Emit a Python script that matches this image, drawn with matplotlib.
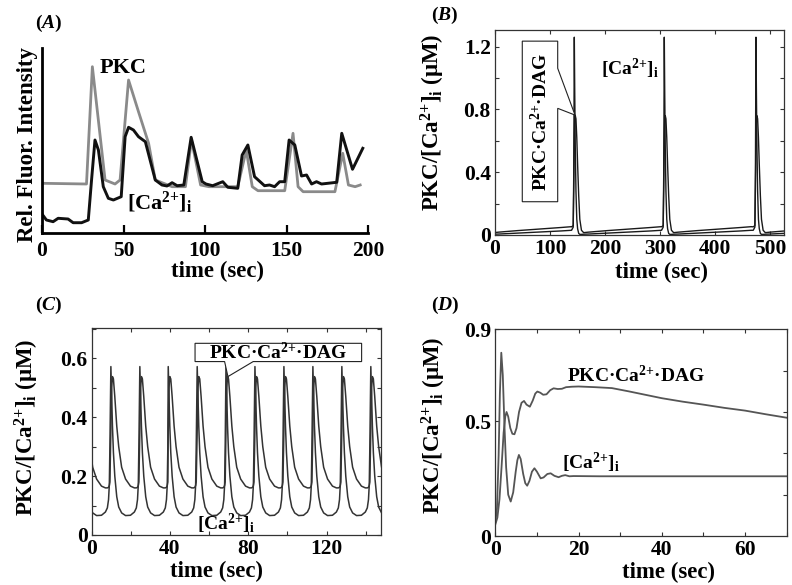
import numpy as np
import matplotlib
matplotlib.use("Agg")
import matplotlib.pyplot as plt
from matplotlib.patches import Polygon
from matplotlib.ticker import MultipleLocator, FixedLocator

plt.rcParams["font.family"] = ["Liberation Serif", "DejaVu Serif"]
plt.rcParams["font.weight"] = "bold"
plt.rcParams["axes.labelweight"] = "bold"
plt.rcParams["mathtext.fontset"] = "custom"
plt.rcParams["mathtext.rm"] = "Liberation Serif:bold"
plt.rcParams["mathtext.it"] = "Liberation Serif:bold:italic"
plt.rcParams["mathtext.bf"] = "Liberation Serif:bold"

# ---- panel A: measured fluorescence (arbitrary units) ----
a_pkc_t = [0, 27.3, 30.9, 38.7, 44.8, 47.9, 53.1, 59.2, 65.4, 69.5, 79.8, 88, 91.7,
           97.3, 102.4, 120.1, 125.3, 129, 132.5, 148.9, 154, 157.1, 160.2, 179.7,
           184.5, 188, 192.1, 195.2]
a_pkc_v = [49.7, 49, 166.3, 53, 49, 53, 153, 121.3, 89.7, 53, 46.3, 46.3, 93, 48,
           46.3, 46.3, 83, 46.3, 42.3, 42.3, 99.7, 46.3, 41.3, 41.3, 79.7, 48, 46.3, 48]
a_ca_t = [0, 2.7, 6.8, 9.9, 16, 19.1, 24.3, 28.4, 30.4, 32.5, 34.6, 37.6, 40.7, 43.8,
          48.6, 51, 53.1, 56.1, 59.2, 63.4, 69.5, 73.6, 76.7, 79.8, 82.9, 87, 91.5,
          98.3, 100.6, 104.7, 110.9, 114, 120.1, 122.8, 126.3, 130.4, 136.5, 139.6,
          142.7, 145.8, 148.9, 151.6, 155.1, 159.2, 162.3, 165.4, 168.4, 171.5,
          180.8, 183.9, 190.5, 196.8]
a_ca_v = [19, 13, 11.3, 14.7, 14, 10.3, 10.3, 13, 53, 93, 83, 46.3, 34.7, 33, 36.3,
          96.3, 105.7, 103, 96.3, 91.3, 53, 48, 47, 50.3, 47.3, 48, 95.7, 51.3, 49,
          47.3, 51.3, 45.7, 44.7, 78, 88, 56.3, 47.3, 48, 46.3, 51.3, 51.3, 93, 88,
          57, 58, 49, 51.3, 49, 50.7, 99.7, 63.7, 84.7]

# ---- panel B: one oscillation cycle (relative to Ca peak) and peak times ----
b_peaks = [-19.0, 144.2, 307.8, 474.5]
b_rel = [-5, -2, -1, 0, 0.8, 1.8, 3, 4.5, 6, 8, 10, 13, 17, 25, 60, 100, 140, 158]
b_ca = [0.03, 0.05, 0.4, 1.26, 0.9, 0.55, 0.28, 0.1, 0.04, 0.01, 0.004, 0.004,
        0.005, 0.006, 0.012, 0.019, 0.026, 0.03]
b_pkc = [0.052, 0.06, 0.3, 0.62, 0.74, 0.76, 0.74, 0.62, 0.45, 0.25, 0.1, 0.03,
         0.015, 0.018, 0.028, 0.038, 0.048, 0.053]

# ---- panel C: one cycle and peak times ----
c_peaks = [-5.0, 9.8, 24.6, 39.1, 53.9, 68.6, 83.4, 98.2, 113.0, 127.8, 142.6]
c_rel = [0.0, 0.4, 0.8, 1.3, 2.0, 3.0, 4.0, 5.5, 7.5, 10.0, 12.0, 13.0, 13.6, 14.0, 14.3]
c_ca = [0.572, 0.47, 0.37, 0.28, 0.20, 0.13, 0.095, 0.075, 0.066, 0.067, 0.078,
        0.092, 0.12, 0.17, 0.30]
c_pkc = [0.36, 0.50, 0.538, 0.53, 0.47, 0.37, 0.30, 0.23, 0.19, 0.166, 0.16, 0.16,
         0.162, 0.168, 0.18]

# ---- panel D: damped response ----
d_ca_t = [0.0, 0.4, 0.8, 1.1, 1.44, 1.8, 2.2, 2.6, 3.1, 3.7, 4.3, 4.9, 5.3, 5.67,
          6.1, 6.7, 7.2, 7.66, 8.2, 8.8, 9.4, 10.0, 10.9, 11.6, 12.5, 13.3, 14.2,
          15.2, 16.0, 16.8, 17.8, 18.8, 25, 40, 55, 70]
d_ca = [0.06, 0.12, 0.35, 0.62, 0.798, 0.70, 0.48, 0.30, 0.18, 0.15, 0.19, 0.28,
        0.33, 0.353, 0.335, 0.27, 0.23, 0.219, 0.24, 0.28, 0.295, 0.28, 0.251,
        0.255, 0.27, 0.273, 0.262, 0.256, 0.262, 0.265, 0.26, 0.261, 0.26, 0.26,
        0.26, 0.26]
d_pkc_t = [0.0, 0.5, 1.0, 1.5, 2.0, 2.4, 2.7, 3.1, 3.6, 4.1, 4.6, 5.1, 5.7, 6.3, 6.9,
           7.5, 8.3, 9.0, 9.6, 10.1, 10.8, 11.5, 12.3, 13.2, 14.0, 15.0, 16.0, 17.0,
           18.4, 20, 24, 28, 32, 36, 40, 45, 50, 55, 60, 65, 70]
d_pkc = [0.05, 0.08, 0.16, 0.30, 0.45, 0.52, 0.54, 0.52, 0.47, 0.445, 0.443, 0.47,
         0.54, 0.58, 0.588, 0.572, 0.563, 0.59, 0.62, 0.629, 0.624, 0.615, 0.617,
         0.635, 0.643, 0.64, 0.641, 0.648, 0.650, 0.651, 0.648, 0.644, 0.63, 0.615,
         0.60, 0.585, 0.572, 0.558, 0.546, 0.53, 0.515]

LABEL = "PKC/[Ca$^{2{+}}$]$_\\mathrm{i}$ (\u03bcM)"
COMPLEX = "PKC\u00b7Ca$^{2{+}}$\u00b7DAG"
CA = "[Ca$^{2{+}}$]$_\\mathrm{i}$"
LAB_FS = 16.5
TICK_FS = 15.5


def tile(peaks, rel, vals):
    t = np.concatenate([p + np.asarray(rel) for p in peaks])
    v = np.concatenate([np.asarray(vals)] * len(peaks))
    return t, v


W, H = 792, 585
fig = plt.figure(figsize=(W / 100, H / 100), dpi=100)


def add_axes(left, top, right, bottom):
    return fig.add_axes([left / W, 1 - bottom / H, (right - left) / W, (bottom - top) / H])


def box_style(ax):
    for s in ax.spines.values():
        s.set_linewidth(0.9)
        s.set_color("#333333")
    ax.tick_params(which="both", direction="in", top=True, right=True,
                   length=3, width=0.8, color="#333333", labelsize=TICK_FS, pad=3)


# (A)
ax = add_axes(42, 48, 368, 233)
ax.plot(a_pkc_t, a_pkc_v, color="#8a8a8a", lw=2.0, solid_joinstyle="round")
ax.plot(a_ca_t, a_ca_v, color="#111111", lw=2.1, solid_joinstyle="round")
ax.set_xlim(0, 200)
ax.set_ylim(0, 185)
ax.spines["top"].set_visible(False)
ax.spines["right"].set_visible(False)
for s in ("left", "bottom"):
    ax.spines[s].set_linewidth(2.0)
ax.set_yticks([])
ax.set_xticks([0, 50, 100, 150, 200])
ax.tick_params(axis="x", direction="in", length=6, width=1.6, labelsize=TICK_FS, pad=6)
ax.set_xlabel("time (sec)", fontsize=LAB_FS)
ax.xaxis.set_label_coords(0.537, -0.15)
ax.set_ylabel("Rel. Fluor. Intensity", fontsize=LAB_FS)
ax.yaxis.set_label_coords(-0.012, 0.48)
ax.text(50, 165, "PKC", fontsize=16, ha="center", va="center")
ax.text(52.4, 30, CA, fontsize=16, ha="left", va="center")
fig.text(35 / W, 1 - 23 / H, "($\\mathit{A}$)", fontsize=14, va="center")

# (B)
ax = add_axes(495, 30, 784.3, 235)
t, v = tile(b_peaks, b_rel, b_ca)
ax.plot(t, v, color="#1a1a1a", lw=1.0)
t, v = tile(b_peaks, b_rel, b_pkc)
ax.plot(t, v, color="#1a1a1a", lw=1.0)
ax.set_xlim(0, 526)
ax.set_ylim(0, 1.306)
ax.xaxis.set_major_locator(MultipleLocator(100))
ax.yaxis.set_major_locator(FixedLocator([0, 0.4, 0.8, 1.2]))
ax.yaxis.set_minor_locator(FixedLocator([0.2, 0.6, 1.0]))
box_style(ax)
ax.set_yticklabels(["0", "0.4", "0.8", "1.2"])
ax.set_xlabel("time (sec)", fontsize=LAB_FS)
ax.xaxis.set_label_coords(0.577, -0.13)
ax.set_ylabel(LABEL, fontsize=LAB_FS)
ax.yaxis.set_label_coords(-0.165, 0.55)
callout = Polygon([(49.6, 1.235), (114, 1.235), (114, 1.062), (145.5, 0.764),
                   (114, 0.807), (114, 0.212), (49.6, 0.212)], closed=True,
                  facecolor="white", edgecolor="#222222", lw=0.8, zorder=3)
ax.add_patch(callout)
ax.text(82, 0.72, COMPLEX, rotation=90, fontsize=14, ha="center", va="center", zorder=4)
ax.text(193, 1.06, CA, fontsize=14, ha="left", va="center")
fig.text(431 / W, 1 - 15 / H, "($\\mathit{B}$)", fontsize=14, va="center")

# (C)
ax = add_axes(91.7, 328.3, 381, 535)
t, v = tile(c_peaks, c_rel, c_ca)
ax.plot(t, v, color="#333333", lw=1.1)
t, v = tile(c_peaks, c_rel, c_pkc)
ax.plot(t, v, color="#333333", lw=1.1)
ax.set_xlim(0, 147.8)
ax.set_ylim(0, 0.702)
ax.xaxis.set_major_locator(MultipleLocator(40))
ax.xaxis.set_minor_locator(MultipleLocator(20))
ax.yaxis.set_major_locator(FixedLocator([0, 0.2, 0.4, 0.6]))
ax.yaxis.set_minor_locator(FixedLocator([0.1, 0.3, 0.5, 0.7]))
box_style(ax)
ax.set_yticklabels(["0", "0.2", "0.4", "0.6"])
ax.set_xlabel("time (sec)", fontsize=LAB_FS)
ax.xaxis.set_label_coords(0.433, -0.125)
ax.set_ylabel(LABEL, fontsize=LAB_FS)
ax.yaxis.set_label_coords(-0.175, 0.52)
callout = Polygon([(52.8, 0.651), (137.9, 0.651), (137.9, 0.589), (82.5, 0.589),
                   (69.6, 0.538), (67.9, 0.589), (52.8, 0.589)], closed=True,
                  facecolor="white", edgecolor="#222222", lw=0.8, zorder=3)
ax.add_patch(callout)
ax.text(95.3, 0.62, COMPLEX, fontsize=14, ha="center", va="center", zorder=4)
ax.text(53.6, 0.036, CA, fontsize=14, ha="left", va="center")
fig.text(35 / W, 1 - 305 / H, "($\\mathit{C}$)", fontsize=14, va="center")

# (D)
ax = add_axes(495.3, 329.3, 786.7, 536)
ax.plot(d_ca_t, d_ca, color="#555555", lw=1.3)
ax.plot(d_pkc_t, d_pkc, color="#555555", lw=1.3)
ax.set_xlim(0, 70)
ax.set_ylim(0, 0.9)
ax.xaxis.set_major_locator(MultipleLocator(20))
ax.xaxis.set_minor_locator(MultipleLocator(10))
ax.yaxis.set_major_locator(FixedLocator([0, 0.5, 0.9]))
ax.yaxis.set_minor_locator(FixedLocator([0.18, 0.36, 0.54, 0.72]))
box_style(ax)
ax.tick_params(axis="y", which="major", right=False)
ax.tick_params(axis="y", which="minor", left=False)
ax.set_yticklabels(["0", "0.5", "0.9"])
ax.set_xlabel("time (sec)", fontsize=LAB_FS)
ax.xaxis.set_label_coords(0.596, -0.125)
ax.set_ylabel(LABEL, fontsize=LAB_FS)
ax.yaxis.set_label_coords(-0.162, 0.537)
ax.text(33.7, 0.70, COMPLEX, fontsize=14, ha="center", va="center")
ax.text(16.1, 0.318, CA, fontsize=14, ha="left", va="center")
fig.text(431 / W, 1 - 305 / H, "($\\mathit{D}$)", fontsize=14, va="center")

fig.savefig("out.png", dpi=100)
